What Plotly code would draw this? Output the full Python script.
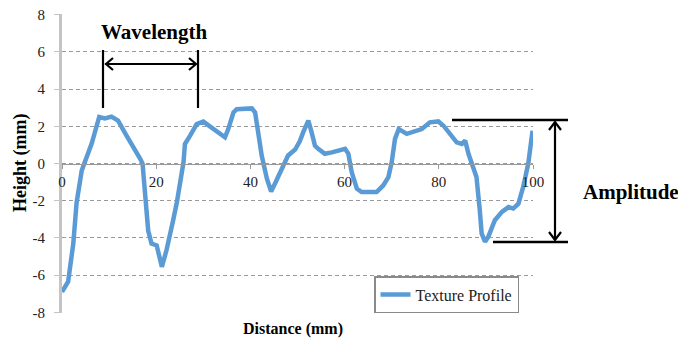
import plotly.graph_objects as go

# ---- data ----
distance_mm = [0.0, 1.3, 2.4, 3.1, 4.2, 5.2, 6.3, 7.9, 9.1, 10.5, 11.9, 13.7, 15.5, 16.6,
               17.1, 17.6, 18.3, 19.0, 20.1, 21.2, 22.2, 23.6, 24.4, 25.8, 26.1, 27.2, 28.6,
               30.0, 31.8, 33.5, 34.6, 35.3, 36.4, 37.1, 40.3, 41.0, 41.7, 42.4, 43.5, 44.4,
               45.2, 46.6, 48.0, 49.5, 50.5, 51.2, 52.3, 53.0, 53.7, 54.4, 55.8, 57.3, 60.1,
               60.8, 61.5, 62.6, 63.6, 66.8, 68.2, 69.3, 70.0, 70.7, 71.5, 73.2, 74.9, 76.4,
               78.1, 79.9, 81.0, 82.4, 83.8, 84.9, 85.6, 86.3, 87.3, 88.0, 88.7, 89.1, 89.8,
               90.5, 91.9, 93.4, 94.8, 95.8, 96.9, 97.9, 99.0, 99.9]
height_mm = [-6.9, -6.35, -4.3, -2.1, -0.37, 0.27, 1.07, 2.5, 2.42, 2.52, 2.3, 1.5, 0.78, 0.25,
             0.0, -1.44, -3.6, -4.3, -4.4, -5.55, -4.65, -3.05, -2.07, 0.07, 1.05, 1.5, 2.12,
             2.25, 1.94, 1.59, 1.41, 1.85, 2.74, 2.92, 2.96, 2.74, 1.67, 0.43, -0.82, -1.5,
             -1.09, -0.37, 0.43, 0.75, 1.2, 1.67, 2.3, 1.67, 0.96, 0.79, 0.52, 0.6, 0.79,
             0.52, -0.46, -1.35, -1.53, -1.53, -1.18, -0.73, 0.07, 1.32, 1.85, 1.59, 1.72, 1.85,
             2.21, 2.26, 2.03, 1.59, 1.14, 1.05, 1.23, 0.52, -0.28, -0.73, -2.51, -3.76, -4.2,
             -3.94, -3.05, -2.6, -2.34, -2.42, -2.16, -1.27, 0.0, 1.76]
series_name = "Texture Profile"
x_ticks = [0, 20, 40, 60, 80, 100]
y_ticks = [-8, -6, -4, -2, 0, 2, 4, 6, 8]

SERIF = "Liberation Serif, Times New Roman, serif"

# page offset added by the default body margin of the html page
OFF = 8
# plot-area geometry in page pixels
PL, PT, PW, PH = 62, 14, 471, 299
FIG_W, FIG_H = 686 - OFF, 339 - OFF
Y_PAD = 0.03  # tiny range padding so the gridlines at +/-8 are drawn


def px(x):
    return (x - PL) / PW


def py(y):
    return (PT + PH - y) / PH


def path(points):
    return "M " + " L ".join(f"{px(a):.5f},{py(b):.5f}" for a, b in points)


fig = go.Figure()
fig.add_trace(go.Scatter(
    x=distance_mm, y=height_mm, mode="lines", name=series_name,
    line=dict(color="#5b9bd5", width=4.5),
))

black_line = dict(color="black", width=2.2)
shapes = [
    # wavelength markers
    dict(type="path", path=path([(103, 50), (103, 108)]), line=black_line),
    dict(type="path", path=path([(198, 50), (198, 108)]), line=black_line),
    dict(type="path", path=path([(106, 64), (196, 64)]), line=black_line),
    dict(type="path", path=path([(113, 58), (106, 64), (113, 70)]), line=black_line),
    dict(type="path", path=path([(189, 58), (196, 64), (189, 70)]), line=black_line),
    # amplitude markers
    dict(type="path", path=path([(452, 120), (568, 120)]), line=dict(color="black", width=2.5)),
    dict(type="path", path=path([(493, 242), (568, 242)]), line=dict(color="black", width=2.5)),
    dict(type="path", path=path([(555, 122), (555, 240)]), line=black_line),
    dict(type="path", path=path([(549, 130), (555, 122), (561, 130)]), line=black_line),
    dict(type="path", path=path([(549, 232), (555, 240), (561, 232)]), line=black_line),
]
for s in shapes:
    s.update(xref="paper", yref="paper", layer="above")


def label(text, x, y, size, xanchor="center", yanchor="middle", angle=0):
    return dict(text=text, x=px(x), y=py(y), xref="paper", yref="paper",
                xanchor=xanchor, yanchor=yanchor, textangle=angle, showarrow=False,
                font=dict(family=SERIF, size=size, color="black"))


annotations = [
    label("<b>Wavelength</b>", 154, 32, 21),
    label("<b>Amplitude</b>", 631, 192, 21),
    label("<b>Distance (mm)</b>", 293, 318, 16, yanchor="top"),
    label("<b>Height (mm)</b>", 20, 163, 18, angle=-90),
]

fig.update_layout(
    width=FIG_W, height=FIG_H,
    margin=dict(l=PL - OFF, r=FIG_W - (PL - OFF) - PW, t=PT - OFF,
                b=FIG_H - (PT - OFF) - PH, pad=0, autoexpand=False),
    paper_bgcolor="white", plot_bgcolor="white",
    font=dict(family=SERIF, size=15, color="#222"),
    shapes=shapes, annotations=annotations,
    showlegend=True,
    legend=dict(x=px(374), y=0, xanchor="left", yanchor="bottom",
                bordercolor="#8a8a8a", borderwidth=1.5, bgcolor="white",
                font=dict(family=SERIF, size=16, color="#222"),
                itemwidth=30),
    xaxis=dict(range=[0, 100], tickvals=x_ticks, ticktext=[str(v) for v in x_ticks],
               anchor="free", position=0.5, showline=True, linecolor="#9a9a9a", linewidth=1,
               ticks="outside", ticklen=4, tickcolor="#9a9a9a", showgrid=False, zeroline=False,
               automargin=False,
               tickfont=dict(family=SERIF, size=15, color="#222")),
    yaxis=dict(range=[y_ticks[0] - Y_PAD, y_ticks[-1] + Y_PAD], tickvals=y_ticks,
               ticktext=[str(v) for v in y_ticks],
               showline=True, linecolor="#c4c4c4", linewidth=3,
               ticks="outside", ticklen=5, tickcolor="#c4c4c4",
               showgrid=True, gridcolor="#9a9a9a", griddash="4px,3px", gridwidth=1,
               zeroline=False, ticklabelstandoff=6, automargin=False,
               ticklabeloverflow="allow",
               tickfont=dict(family=SERIF, size=15, color="#222")),
)

fig.write_html("out.html")
